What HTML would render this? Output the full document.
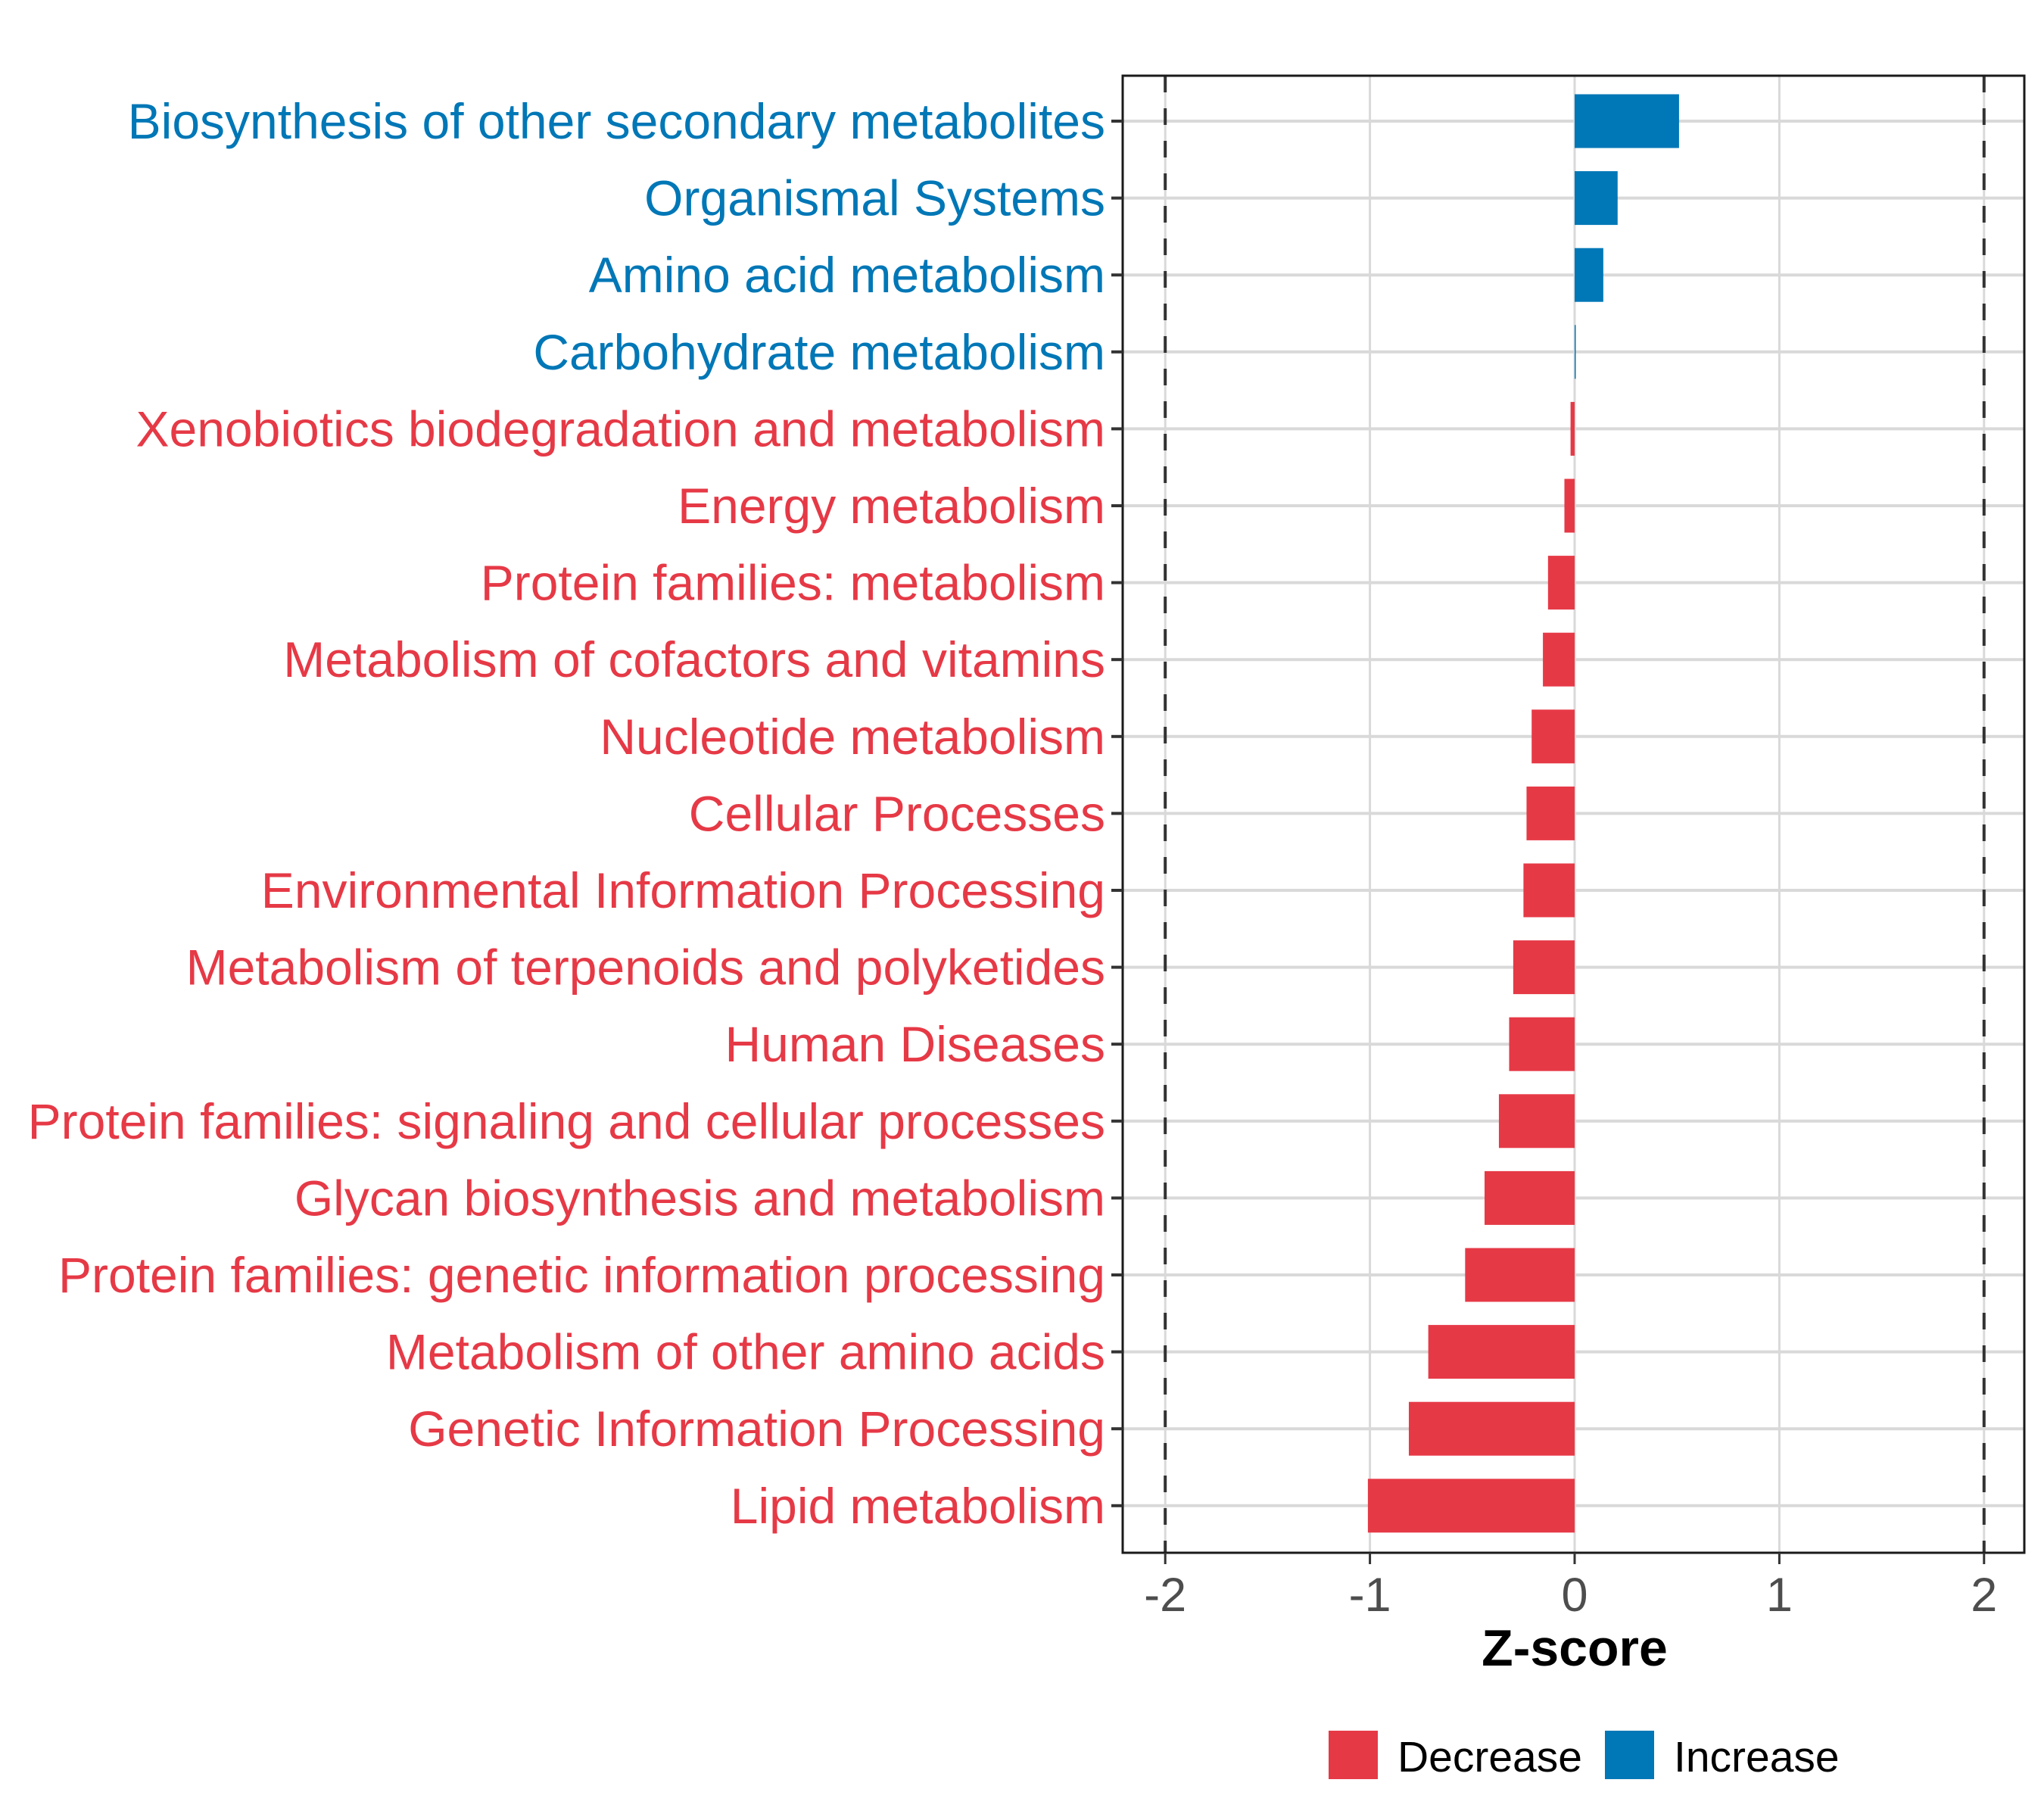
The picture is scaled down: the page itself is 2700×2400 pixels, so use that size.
<!DOCTYPE html>
<html><head><meta charset="utf-8"><style>
html,body{margin:0;padding:0;background:#fff}
svg{display:block;font-family:"Liberation Sans",Arial,sans-serif}
</style></head><body>
<svg id="chart" width="2700" height="2400" viewBox="0 0 2700 2400" xmlns="http://www.w3.org/2000/svg">
<rect width="2700" height="2400" fill="#fff"/>
<g id="grid"></g>
<g id="bars"></g>
<g id="refs"></g>
<rect x="1483" y="100" width="1191" height="1951" fill="none" stroke="#1a1a1a" stroke-width="3"/>
<g id="yaxis"></g>
<g id="xaxis"></g>
<text x="2080" y="2200" text-anchor="middle" font-size="68" font-weight="bold" fill="#000">Z-score</text>
<g>
<rect x="1755" y="2286" width="65" height="64" fill="#E63946"/>
<text x="1846" y="2340" font-size="57" fill="#000">Decrease</text>
<rect x="2120" y="2286" width="65" height="64" fill="#0077B6"/>
<text x="2211" y="2340" font-size="57" fill="#000">Increase</text>
</g>
</svg>
<script>
const categories = ["Biosynthesis of other secondary metabolites","Organismal Systems","Amino acid metabolism","Carbohydrate metabolism","Xenobiotics biodegradation and metabolism","Energy metabolism","Protein families: metabolism","Metabolism of cofactors and vitamins","Nucleotide metabolism","Cellular Processes","Environmental Information Processing","Metabolism of terpenoids and polyketides","Human Diseases","Protein families: signaling and cellular processes","Glycan biosynthesis and metabolism","Protein families: genetic information processing","Metabolism of other amino acids","Genetic Information Processing","Lipid metabolism"];
const zscores = [0.51,0.21,0.14,0.005,-0.02,-0.05,-0.13,-0.155,-0.21,-0.235,-0.25,-0.30,-0.32,-0.37,-0.44,-0.535,-0.715,-0.81,-1.01];
const xTicks = [-2,-1,0,1,2];
const xTickLabels = ["-2","-1","0","1","2"];
const thresholds = [-2,2];

const NS="http://www.w3.org/2000/svg";
const x0=2080, unit=270.4, top0=160, step=101.6, barH=71, pBot=2051;
const xs=v=>x0+v*unit;
const ys=i=>top0+i*step;
function mk(tag,attrs,parent){const e=document.createElementNS(NS,tag);for(const k in attrs)e.setAttribute(k,attrs[k]);parent.appendChild(e);return e;}
const grid=document.getElementById('grid'),bars=document.getElementById('bars'),refs=document.getElementById('refs'),yax=document.getElementById('yaxis'),xax=document.getElementById('xaxis');
xTicks.forEach((t,i)=>{
  const g=mk('line',{x1:xs(t),x2:xs(t),y1:100,y2:pBot,stroke:'#d9d9d9','stroke-width':3},grid);
  
  
  const tk=mk('line',{x1:xs(t),x2:xs(t),y1:pBot,y2:pBot+15,stroke:'#333','stroke-width':3},xax);
  
  
  const tl=mk('text',{x:xs(t),y:2128,'text-anchor':'middle','font-size':63,fill:'#4d4d4d'},xax);
  tl.textContent=xTickLabels[i];
  
  
});
categories.forEach((c,i)=>{
  const y=ys(i), v=zscores[i], col=v>=0?'#0077B6':'#E63946';
  const gl=mk('line',{x1:1483,x2:2674,y1:y,y2:y,stroke:'#d9d9d9','stroke-width':4},grid);
  
  
  const w=Math.max(Math.abs(xs(v)-xs(0)),1.5);
  const b=mk('rect',{x:v>=0?xs(0):xs(v),y:y-barH/2,width:w,height:barH,fill:col},bars);
  
  
  const tk=mk('line',{x1:1468,x2:1483,y1:y,y2:y,stroke:'#333','stroke-width':4},yax);
  
  
  const t=mk('text',{x:1460,y:y+23,'text-anchor':'end','font-size':66,fill:col},yax);
  t.textContent=c;
  
  
});
thresholds.forEach(t=>{
  const l=mk('line',{x1:xs(t),x2:xs(t),y1:100,y2:pBot,stroke:'#333','stroke-width':4,'stroke-dasharray':'22 21'},refs);
  
  
});
</script>
</body></html>
